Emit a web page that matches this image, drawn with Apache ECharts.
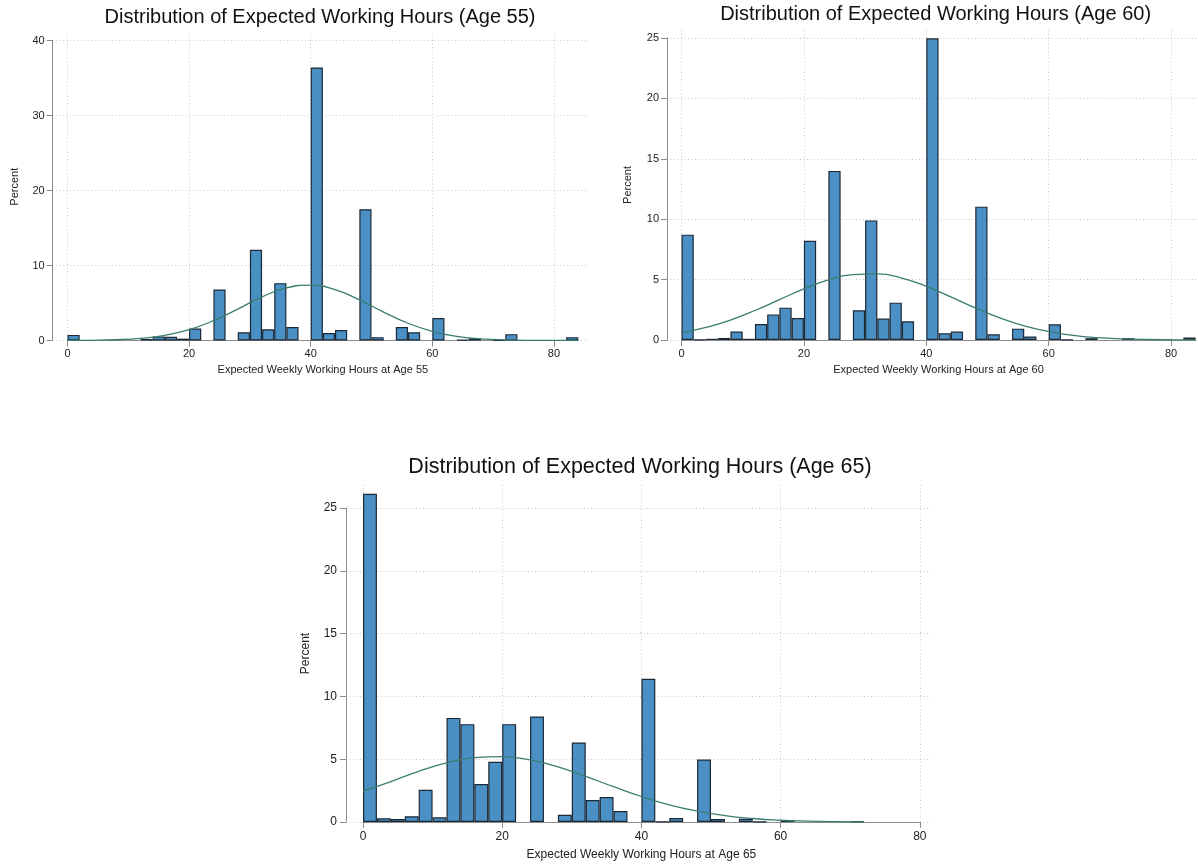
<!DOCTYPE html>
<html><head><meta charset="utf-8">
<script src="https://cdn.jsdelivr.net/npm/echarts@6/dist/echarts.min.js"></script>
<style>html,body{margin:0;padding:0;background:#fff}#c{width:1198px;height:867px}</style>
</head><body><div id="c"></div>
<script>
// ---------- data ----------
const binWidth = 2; // hours per histogram bin, bins start at 0
// percent of respondents per bin [0,2), [2,4), ...
const pct55 = [0.75,0,0,0,0,0,0.2,0.55,0.5,0.25,1.6,0,6.8,0,1.1,12.1,1.5,7.65,1.8,0,
               36.4,1.0,1.4,0,17.5,0.45,0,1.8,1.1,0,3.0,0,0.08,0.3,0,0.05,0.85,0,0,0,0,0.45];
const pct60 = [8.72,0.03,0.1,0.17,0.7,0.1,1.32,2.12,2.68,1.82,8.22,0,14.0,0,2.46,9.9,1.77,3.09,1.55,0,
               24.97,0.55,0.7,0,11.04,0.47,0,0.94,0.28,0,1.3,0.03,0,0.15,0,0,0.15,0,0,0,0,0.2];
const pct65 = [26.14,0.29,0.24,0.45,2.57,0.37,8.29,7.79,3.02,4.79,7.79,0,8.4,0,0.58,6.33,1.75,1.99,0.87,0,
               11.41,0.03,0.32,0,4.98,0.24,0,0.26,0.03,0,0.13,0,0,0,0,0.05];
// normal-density overlay
const curveX84 = [0,4,8,12,16,20,24,28,32,36,40,44,48,52,56,60,64,68,72,76,80,84];
const curve55 = [0.01,0.03,0.1,0.29,0.69,1.45,2.64,4.19,5.81,7.01,7.38,6.77,5.42,3.78,2.3,1.22,0.56,0.23,0.08,0.02,0.01,0];
const curve60 = [0.6,1.04,1.65,2.44,3.34,4.23,4.98,5.42,5.47,5.12,4.44,3.57,2.66,1.83,1.17,0.7,0.38,0.19,0.09,0.04,0.02,0.01];
const curveX72 = [0,4,8,12,16,20,24,28,32,36,40,44,48,52,56,60,64,68,72];
const curve65 = [2.45,3.22,4.03,4.7,5.12,5.2,4.94,4.39,3.63,2.81,2.03,1.37,0.87,0.51,0.28,0.14,0.07,0.03,0.01];
const xTicks = [0,20,40,60,80];
const titles = ['Distribution of Expected Working Hours (Age 55)',
                'Distribution of Expected Working Hours (Age 60)',
                'Distribution of Expected Working Hours (Age 65)'];
const xNames = ['Expected Weekly Working Hours at Age 55',
                'Expected Weekly Working Hours at Age 60',
                'Expected Weekly Working Hours at Age 65'];
const yName = 'Percent';

// ---------- layout ----------
const panels = [
  {pct:pct55, cx:curveX84, cy:curve55, aLeft:52.7, aTop:40.5, aW:535.3, aH:300, bLeft:67.5, bTop:33, ppu:6.08, xMax:84, yMax:40, yInt:10,
   tX:320, tY:7, tSize:20, fs:11, xNameGap:24, yNameGap:47, xMargin:8, yMargin:8},
  {pct:pct60, cx:curveX84, cy:curve60, aLeft:667, aTop:38, aW:531, aH:302, bLeft:681.5, bTop:30, ppu:6.12, xMax:84, yMax:25, yInt:5,
   tX:935.6, tY:4, tSize:20, fs:11, xNameGap:24, yNameGap:48, xMargin:8, yMargin:8},
  {pct:pct65, cx:curveX72, cy:curve65, aLeft:346, aTop:508, aW:585, aH:314, bLeft:363, bTop:485, ppu:6.96, xMax:80, yMax:25, yInt:5,
   tX:640, tY:456, tSize:21.5, fs:12, xNameGap:27, yNameGap:51, xMargin:9, yMargin:9}
];

const axisGrey = '#8c8c8c';
const gridDots = {show:true, lineStyle:{color:'#c9c9c9', width:1, type:[1,2.5]}};
const grid = [], xAxis = [], yAxis = [], series = [], title = [];

panels.forEach((p, k) => {
  const bH = p.aTop + p.aH - p.bTop;
  const bYMax = p.yMax * bH / p.aH;
  const gA = grid.length, gB = gA + 1;
  grid.push({left:p.aLeft, top:p.aTop, width:p.aW, height:p.aH});
  grid.push({left:p.bLeft, top:p.bTop, width:p.xMax*p.ppu, height:bH});
  // grid A: y axis with ticks, labels and horizontal dotted grid
  xAxis.push({gridIndex:gA, type:'value', min:0, max:1, show:false});
  yAxis.push({gridIndex:gA, type:'value', min:0, max:p.yMax, interval:p.yInt,
    axisLine:{show:true, lineStyle:{color:axisGrey, width:1}},
    axisTick:{show:true, length:6, lineStyle:{color:axisGrey}},
    axisLabel:{color:'#222', fontSize:p.fs, margin:p.yMargin},
    splitLine:gridDots});
  // grid B: data grid, x axis with ticks and vertical dotted grid
  xAxis.push({gridIndex:gB, type:'value', min:0, max:p.xMax, interval:20,
    name:xNames[k], nameLocation:'middle', nameGap:p.xNameGap,
    nameTextStyle:{color:'#222', fontSize:p.fs},
    axisLine:{show:true, onZero:false, lineStyle:{color:axisGrey, width:1}},
    axisTick:{show:true, length:6, customValues:xTicks, lineStyle:{color:axisGrey}},
    axisLabel:{color:'#222', fontSize:p.fs, margin:p.xMargin, customValues:xTicks},
    splitLine:gridDots});
  yAxis.push({gridIndex:gB, type:'value', min:0, max:bYMax,
    name:yName, nameLocation:'middle', nameGap:p.yNameGap,
    nameTextStyle:{color:'#222', fontSize:p.fs},
    axisLine:{show:false}, axisTick:{show:false}, axisLabel:{show:false}, splitLine:{show:false}});
  series.push({type:'bar', xAxisIndex:k*2+1, yAxisIndex:k*2+1,
    barWidth: binWidth*p.ppu,
    itemStyle:{color:'#4a90c4', borderColor:'#1b2836', borderWidth:1.2},
    data: p.pct.map((v,i) => v > 0 ? [i*binWidth + binWidth/2, v] : null).filter(Boolean),
    z:3});
  series.push({type:'line', xAxisIndex:k*2+1, yAxisIndex:k*2+1, smooth:true, showSymbol:false,
    lineStyle:{color:'#3a7d72', width:1.3}, data: p.cx.map((x,i) => [x, p.cy[i]]), z:4});
  title.push({text:titles[k], left:p.tX, top:p.tY, textAlign:'center', padding:0,
    textStyle:{fontSize:p.tSize, fontWeight:'normal', color:'#111'}});
});

const chart = echarts.init(document.getElementById('c'), null, {renderer:'canvas'});
chart.setOption({
  animation:false,
  backgroundColor:'#fff',
  textStyle:{fontFamily:'"Liberation Sans", Arial, sans-serif'},
  title, grid, xAxis, yAxis, series
});
</script></body></html>
